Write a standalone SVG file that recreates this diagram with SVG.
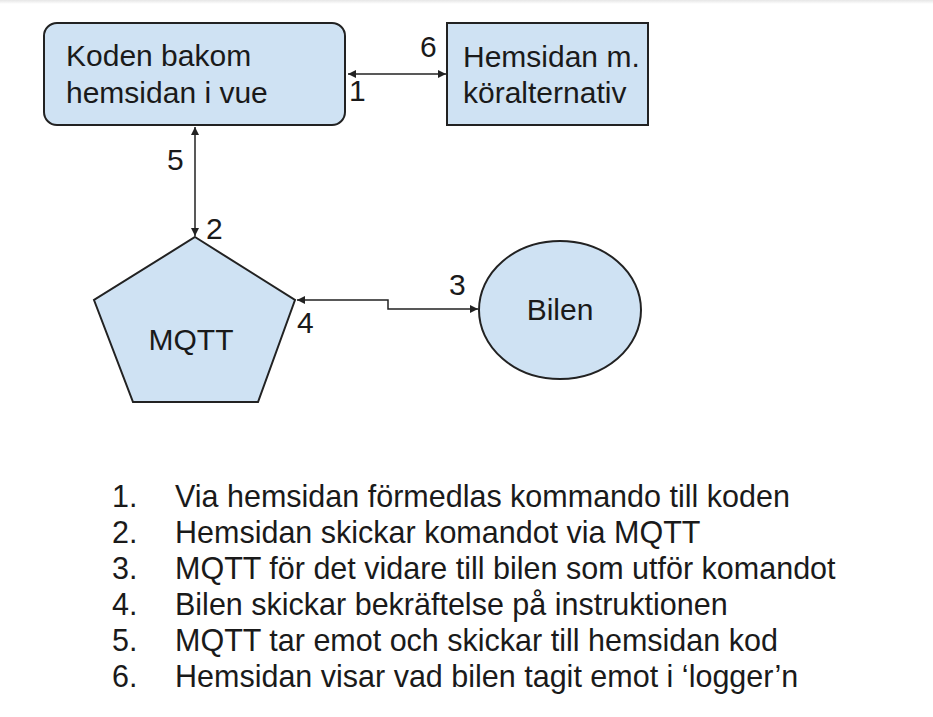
<svg xmlns="http://www.w3.org/2000/svg" width="933" height="717" viewBox="0 0 933 717">
<style>
.shape{fill:#cfe2f3;stroke:#222;stroke-width:2}
.lbl{font-family:"Liberation Sans",Arial,sans-serif;font-size:30px;fill:#1a1a1a}
.num{font-family:"Liberation Sans",Arial,sans-serif;font-size:30px;fill:#1a1a1a}
.list{font-family:"Liberation Sans",Arial,sans-serif;font-size:30.5px;fill:#1a1a1a}
.conn{fill:none;stroke:#222;stroke-width:1.5}
</style>
<defs>
<marker id="ah" viewBox="0 0 10 10" refX="10" refY="5" markerWidth="8" markerHeight="8" markerUnits="userSpaceOnUse" orient="auto-start-reverse">
<path d="M0,0 L10,5 L0,10 z" fill="#222"/>
</marker>
<linearGradient id="topfade" x1="0" y1="0" x2="0" y2="1">
<stop offset="0" stop-color="#e6e6e6"/>
<stop offset="1" stop-color="#ffffff"/>
</linearGradient>
</defs>
<rect x="0" y="0" width="933" height="717" fill="#fff"/>
<rect x="0" y="0" width="933" height="4" fill="url(#topfade)"/>

<g id="connectors">
<line class="conn" x1="348" y1="74" x2="446" y2="74" marker-start="url(#ah)" marker-end="url(#ah)"/>
<line class="conn" x1="195" y1="127" x2="195" y2="236" marker-start="url(#ah)" marker-end="url(#ah)"/>
<polyline class="conn" points="297,300 388,300 388,309 478,309" marker-start="url(#ah)" marker-end="url(#ah)"/>
<text class="num" x="420" y="57">6</text>
<text class="num" x="349" y="101">1</text>
<text class="num" x="167" y="170">5</text>
<text class="num" x="206" y="239">2</text>
<text class="num" x="297" y="333">4</text>
<text class="num" x="449" y="295">3</text>
</g>

<g id="node-koden">
<rect class="shape" x="44" y="23" width="301" height="102" rx="13" ry="13"/>
<text class="lbl" x="66" y="66">Koden bakom</text>
<text class="lbl" x="66" y="103">hemsidan i vue</text>
</g>

<g id="node-hemsidan">
<rect class="shape" x="447" y="23" width="201" height="102"/>
<text class="lbl" x="463" y="67">Hemsidan m.</text>
<text class="lbl" x="463" y="103">köralternativ</text>
</g>

<g id="node-mqtt">
<polygon class="shape" points="195,237 295,300 258,402 133,402 94,300"/>
<text class="lbl" x="191" y="350" text-anchor="middle">MQTT</text>
</g>

<g id="node-bilen">
<ellipse class="shape" cx="560" cy="310" rx="81" ry="69"/>
<text class="lbl" x="560" y="320" text-anchor="middle">Bilen</text>
</g>

<g id="list">
<text class="list" x="112" y="507">1.</text>
<text class="list" x="175" y="507">Via hemsidan förmedlas kommando till koden</text>
<text class="list" x="112" y="543">2.</text>
<text class="list" x="175" y="543">Hemsidan skickar komandot via MQTT</text>
<text class="list" x="112" y="579">3.</text>
<text class="list" x="175" y="579">MQTT för det vidare till bilen som utför komandot</text>
<text class="list" x="112" y="615">4.</text>
<text class="list" x="175" y="615">Bilen skickar bekräftelse på instruktionen</text>
<text class="list" x="112" y="651">5.</text>
<text class="list" x="175" y="651">MQTT tar emot och skickar till hemsidan kod</text>
<text class="list" x="112" y="687">6.</text>
<text class="list" x="175" y="687">Hemsidan visar vad bilen tagit emot i ‘logger’n</text>
</g>
</svg>
